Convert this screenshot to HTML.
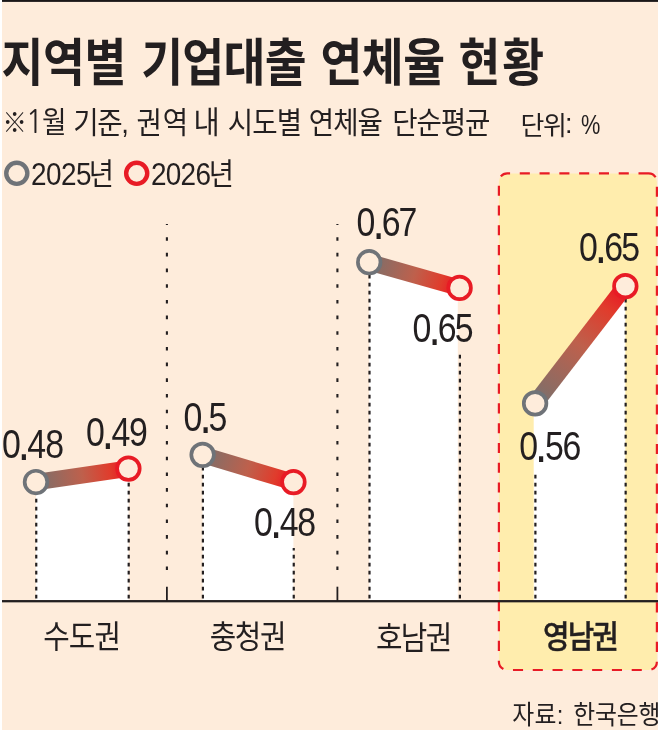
<!DOCTYPE html>
<html lang="ko">
<head>
<meta charset="utf-8">
<title>지역별 기업대출 연체율 현황</title>
<style>
html,body{margin:0;padding:0;background:#fff;}
body{width:658px;height:730px;overflow:hidden;}
svg{display:block;}
text{font-family:"Liberation Sans", "Noto Sans CJK KR", "NanumGothic", sans-serif;}
</style>
</head>
<body>
<svg width="658" height="730" viewBox="0 0 658 730" role="img" aria-label="지역별 기업대출 연체율 현황">
<defs>
<linearGradient id="g0" gradientUnits="userSpaceOnUse" x1="35.95" y1="482.05" x2="128.4" y2="468.6"><stop offset="0" stop-color="#70747A"/><stop offset="0.12" stop-color="#8A6C64"/><stop offset="0.5" stop-color="#BE604C"/><stop offset="0.8" stop-color="#E03C2C"/><stop offset="0.95" stop-color="#E81B25"/></linearGradient>
<linearGradient id="g1" gradientUnits="userSpaceOnUse" x1="202.6" y1="454.85" x2="293.45" y2="482.1"><stop offset="0" stop-color="#70747A"/><stop offset="0.12" stop-color="#8A6C64"/><stop offset="0.5" stop-color="#BE604C"/><stop offset="0.8" stop-color="#E03C2C"/><stop offset="0.95" stop-color="#E81B25"/></linearGradient>
<linearGradient id="g2" gradientUnits="userSpaceOnUse" x1="369.2" y1="262.2" x2="459.6" y2="287.9"><stop offset="0" stop-color="#70747A"/><stop offset="0.12" stop-color="#8A6C64"/><stop offset="0.5" stop-color="#BE604C"/><stop offset="0.8" stop-color="#E03C2C"/><stop offset="0.95" stop-color="#E81B25"/></linearGradient>
<linearGradient id="g3" gradientUnits="userSpaceOnUse" x1="535.1" y1="403.4" x2="625.35" y2="286.15"><stop offset="0" stop-color="#70747A"/><stop offset="0.12" stop-color="#8A6C64"/><stop offset="0.5" stop-color="#BE604C"/><stop offset="0.8" stop-color="#E03C2C"/><stop offset="0.95" stop-color="#E81B25"/></linearGradient>
</defs>
<!-- background -->
<rect x="0" y="0" width="658" height="730" fill="#fff"/>
<rect x="2" y="0" width="656" height="730" fill="#FEECDB"/>
<rect x="2" y="0" width="656" height="1.9" fill="#1a1718"/>
<!-- highlight box -->
<path d="M648.6,173.4 H507.2 A8.3,8.3 0 0 0 498.9,181.70000000000002 V661.7 A8.3,8.3 0 0 0 507.2,670.0 H648.6 A8.3,8.3 0 0 0 656.9,661.7 V181.70000000000002 A8.3,8.3 0 0 0 648.6,173.4 Z" fill="#FFEDAD" stroke="#E81B25" stroke-width="2.2" stroke-dasharray="10.1 9.69"/>
<!-- legend markers -->
<circle cx="16.8" cy="173.3" r="10.55" fill="none" stroke="#6F7378" stroke-width="4.4"/>
<circle cx="136.7" cy="173.3" r="10.55" fill="none" stroke="#E81B25" stroke-width="4.4"/>
<!-- separators -->
<line x1="166.9" y1="224" x2="166.9" y2="572" stroke="#231F20" stroke-width="2.1" stroke-dasharray="3.6 12.08" stroke-dashoffset="2.5"/>
<line x1="166.9" y1="586.7" x2="166.9" y2="601.2" stroke="#231F20" stroke-width="1.8"/>
<line x1="337.4" y1="224" x2="337.4" y2="572" stroke="#231F20" stroke-width="2.1" stroke-dasharray="3.6 12.08" stroke-dashoffset="2.5"/>
<line x1="337.4" y1="586.7" x2="337.4" y2="601.2" stroke="#231F20" stroke-width="1.8"/>
<!-- white areas -->
<polygon points="35.95,482.05 128.6,468.6 128.6,601.2 35.95,601.2" fill="#fff"/>
<polygon points="202.6,454.85 293.4,482.1 293.4,601.2 202.6,601.2" fill="#fff"/>
<polygon points="369.2,262.2 457.8,287.9 457.8,601.2 369.2,601.2" fill="#fff"/>
<polygon points="533.7,403.4 625.35,286.15 625.35,601.2 533.7,601.2" fill="#fff"/>
<!-- axis -->
<rect x="2" y="600.05" width="656" height="2.3" fill="#231F20"/>
<!-- drop lines -->
<line x1="36.25" y1="598.6" x2="36.25" y2="494.0" stroke="#231F20" stroke-width="2.2" stroke-dasharray="3.9 4.1"/>
<line x1="128.70" y1="598.6" x2="128.70" y2="480.5" stroke="#231F20" stroke-width="2.2" stroke-dasharray="3.9 4.1"/>
<line x1="202.90" y1="598.6" x2="202.90" y2="467.0" stroke="#231F20" stroke-width="2.2" stroke-dasharray="3.9 4.1"/>
<line x1="293.75" y1="598.6" x2="293.75" y2="548.0" stroke="#231F20" stroke-width="2.2" stroke-dasharray="3.9 4.1"/>
<line x1="369.50" y1="598.6" x2="369.50" y2="274.3" stroke="#231F20" stroke-width="2.2" stroke-dasharray="3.9 4.1"/>
<line x1="459.90" y1="598.6" x2="459.90" y2="353.5" stroke="#231F20" stroke-width="2.2" stroke-dasharray="3.9 4.1"/>
<line x1="535.40" y1="598.6" x2="535.40" y2="470.4" stroke="#231F20" stroke-width="2.2" stroke-dasharray="3.9 4.1"/>
<line x1="625.65" y1="598.6" x2="625.65" y2="298.0" stroke="#231F20" stroke-width="2.2" stroke-dasharray="3.9 4.1"/>
<!-- slope lines and markers -->
<line x1="35.95" y1="482.05" x2="128.4" y2="468.6" stroke="url(#g0)" stroke-width="16.5"/>
<circle cx="35.95" cy="482.05" r="11.3" fill="#FEECDB" stroke="#6F7378" stroke-width="3.7"/>
<circle cx="128.4" cy="468.6" r="11.3" fill="#FEECDB" stroke="#E81B25" stroke-width="3.7"/>
<line x1="202.6" y1="454.85" x2="293.45" y2="482.1" stroke="url(#g1)" stroke-width="16.5"/>
<circle cx="202.6" cy="454.85" r="11.3" fill="#FEECDB" stroke="#6F7378" stroke-width="3.7"/>
<circle cx="293.45" cy="482.1" r="11.3" fill="#FEECDB" stroke="#E81B25" stroke-width="3.7"/>
<line x1="369.2" y1="262.2" x2="459.6" y2="287.9" stroke="url(#g2)" stroke-width="16.5"/>
<circle cx="369.2" cy="262.2" r="11.3" fill="#FEECDB" stroke="#6F7378" stroke-width="3.7"/>
<circle cx="459.6" cy="287.9" r="11.3" fill="#FEECDB" stroke="#E81B25" stroke-width="3.7"/>
<line x1="535.1" y1="403.4" x2="625.35" y2="286.15" stroke="url(#g3)" stroke-width="16.5"/>
<circle cx="535.1" cy="403.4" r="11.3" fill="#FEECDB" stroke="#6F7378" stroke-width="3.7"/>
<circle cx="625.35" cy="286.15" r="11.3" fill="#FEECDB" stroke="#E81B25" stroke-width="3.7"/>
<!-- text -->
<g opacity="0.999">
<text transform="translate(1.50,81.30) scale(0.8940,1)" font-size="50.9" font-weight="700" letter-spacing="-0.34" fill="#231F20">지역별 <tspan x="156.26" y="0.00" font-size="50.9" letter-spacing="-0.78">기업대출 </tspan><tspan x="356.77" y="0.00" font-size="50.9" letter-spacing="-0.50">연체율 </tspan><tspan x="511.07" y="0.00" font-size="50.9" letter-spacing="2.13">현황</tspan></text>
<text transform="translate(2.60,132.40) scale(0.9200,1)" font-size="26.5" font-weight="400" letter-spacing="0.00" fill="#231F20">※<tspan x="25.11" y="0.30" font-size="31.5" letter-spacing="0.00" style='font-family:"NanumGothic", "Liberation Sans", sans-serif'>1</tspan><tspan x="42.83" y="0.60" font-size="29.0" letter-spacing="0.00">월 </tspan><tspan x="76.68" y="0.60" font-size="30.0" letter-spacing="-1.44">기준, </tspan><tspan x="145.49" y="0.60" font-size="30.0" letter-spacing="1.09">권역 </tspan><tspan x="207.55" y="0.60" font-size="31.0" letter-spacing="0.00">내 </tspan><tspan x="244.73" y="0.60" font-size="30.0" letter-spacing="-0.90">시도별 </tspan><tspan x="332.88" y="0.60" font-size="30.0" letter-spacing="-1.14">연체율 </tspan><tspan x="423.59" y="0.60" font-size="30.0" letter-spacing="-1.25">단순평균</tspan></text>
<text transform="translate(520.40,134.50) scale(1.0000,1)" font-size="25.9" font-weight="400" letter-spacing="-1.15" fill="#231F20">단위<tspan x="44.60" y="-1.20" font-size="27.0" letter-spacing="0.00">: </tspan></text>
<text transform="translate(580.91,133.95) scale(0.7894,1)" font-size="27.6" font-weight="400" letter-spacing="0.00" fill="#231F20">%</text>
<text transform="translate(31.00,184.50) scale(0.8900,1)" font-size="31.4" font-weight="400" letter-spacing="-0.64" fill="#231F20">2025<tspan x="64.92" y="0.25" font-size="30.8" letter-spacing="0.00">년</tspan></text>
<text transform="translate(150.90,184.50) scale(0.8900,1)" font-size="31.4" font-weight="400" letter-spacing="-0.79" fill="#231F20">2026<tspan x="65.14" y="0.25" font-size="30.8" letter-spacing="0.00">년</tspan></text>
<text transform="translate(1.93,457.65) scale(0.8300,1)" font-size="40.8" font-weight="400" letter-spacing="0.00" fill="#231F20">0<tspan x="19.04" y="2.35" font-size="53.0" letter-spacing="0.00">.</tspan><tspan x="30.51" y="0.00" font-size="40.8" letter-spacing="-1.08">48</tspan></text>
<text transform="translate(85.93,446.25) scale(0.8300,1)" font-size="40.8" font-weight="400" letter-spacing="0.00" fill="#231F20">0<tspan x="19.04" y="2.35" font-size="53.0" letter-spacing="0.00">.</tspan><tspan x="30.87" y="0.00" font-size="40.8" letter-spacing="-1.51">49</tspan></text>
<text transform="translate(183.62,431.05) scale(0.8300,1)" font-size="40.8" font-weight="400" letter-spacing="0.00" fill="#231F20">0<tspan x="19.04" y="2.35" font-size="53.0" letter-spacing="0.00">.</tspan><tspan x="30.09" y="0.00" font-size="40.8" letter-spacing="0.00">5</tspan></text>
<text transform="translate(254.12,536.05) scale(0.8300,1)" font-size="40.8" font-weight="400" letter-spacing="0.00" fill="#231F20">0<tspan x="19.04" y="2.35" font-size="53.0" letter-spacing="0.00">.</tspan><tspan x="30.87" y="0.00" font-size="40.8" letter-spacing="-1.45">48</tspan></text>
<text transform="translate(356.62,236.25) scale(0.8300,1)" font-size="40.8" font-weight="400" letter-spacing="0.00" fill="#231F20">0<tspan x="19.04" y="2.35" font-size="53.0" letter-spacing="0.00">.</tspan><tspan x="30.27" y="0.00" font-size="40.8" letter-spacing="-2.35">67</tspan></text>
<text transform="translate(412.62,342.25) scale(0.8300,1)" font-size="40.8" font-weight="400" letter-spacing="0.00" fill="#231F20">0<tspan x="19.04" y="2.35" font-size="53.0" letter-spacing="0.00">.</tspan><tspan x="30.27" y="0.00" font-size="40.8" letter-spacing="-2.05">65</tspan></text>
<text transform="translate(578.92,260.85) scale(0.8300,1)" font-size="40.8" font-weight="400" letter-spacing="0.00" fill="#231F20">0<tspan x="19.04" y="2.35" font-size="53.0" letter-spacing="0.00">.</tspan><tspan x="30.51" y="0.00" font-size="40.8" letter-spacing="-2.29">65</tspan></text>
<text transform="translate(519.33,460.05) scale(0.8300,1)" font-size="40.8" font-weight="400" letter-spacing="0.00" fill="#231F20">0<tspan x="19.04" y="2.35" font-size="53.0" letter-spacing="0.00">.</tspan><tspan x="30.93" y="0.00" font-size="40.8" letter-spacing="-1.75">56</tspan></text>
<text transform="translate(43.30,648.30) scale(0.9000,1)" font-size="32.0" font-weight="400" letter-spacing="-1.06" fill="#231F20">수도권</text>
<text transform="translate(209.70,648.30) scale(0.9000,1)" font-size="32.0" font-weight="400" letter-spacing="-1.50" fill="#231F20">충청권</text>
<text transform="translate(375.90,648.80) scale(0.9000,1)" font-size="32.0" font-weight="400" letter-spacing="-1.72" fill="#231F20">호남권</text>
<text transform="translate(543.05,648.30) scale(0.9000,1)" font-size="32.0" font-weight="500" letter-spacing="-2.08" fill="#231F20" stroke="#231F20" stroke-width="0.45" stroke-linejoin="round">영남권</text>
<text transform="translate(512.20,723.60) scale(0.9000,1)" font-size="26.5" font-weight="400" letter-spacing="0.42" fill="#231F20">자료: <tspan x="67.72" y="0.00" font-size="26.5" letter-spacing="-0.19">한국은행</tspan></text>
</g>
</svg>
</body>
</html>
